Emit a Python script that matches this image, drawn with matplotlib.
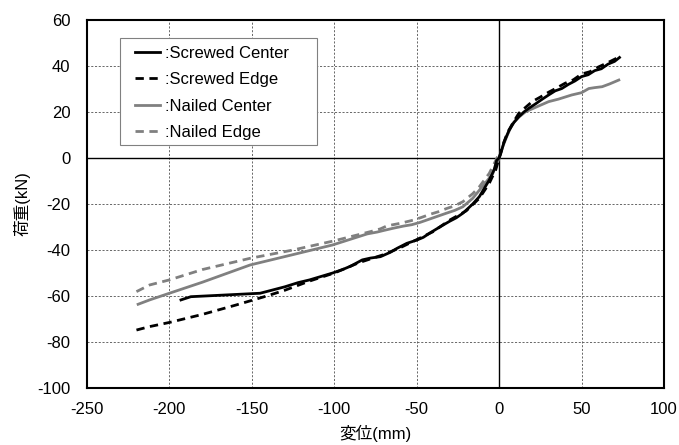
import matplotlib
matplotlib.use("Agg")
import matplotlib.pyplot as plt
from matplotlib.patches import Rectangle

plt.rcParams['font.family'] = ['Liberation Sans', 'Noto Sans CJK JP', 'DejaVu Sans']
plt.rcParams['axes.unicode_minus'] = False

# Screwed Center
sc_x = [-193, -187, -170, -145, -138, -130, -122, -115, -108, -101, -95, -90, -83, -78, -72, -66,
        -62, -56, -50, -46, -42, -36, -30, -26, -22, -16, -12, -6, -3, -1.5, 0,
        1, 3, 6, 9, 12, 15, 18, 22, 26, 30, 34, 38, 42, 46, 50, 54, 58, 62, 66, 70, 73]
sc_y = [-61.7, -60.3, -59.7, -58.8, -57.5, -56, -54.2, -53, -51.5, -50, -48.5, -47, -44.3, -43.5, -42.9, -41,
        -39.3, -37.1, -35.7, -34.5, -32.6, -30, -27.5, -26, -24, -20, -16.8, -9.6, -5, -1, 0,
        2, 7, 12, 15.5, 18, 20, 21.6, 23.5, 25.5, 27.4, 29.2, 30.2, 32, 33.5, 35.4, 36.2, 38, 38.8, 40.8, 42, 43.7]

# Screwed Edge
se_x = [-220, -212, -200, -180, -160, -141, -130, -115, -100, -85, -70, -60, -50, -40, -30,
        -20, -12, -6, -2, 0, 2, 5, 9, 12, 16, 20, 25, 30, 35, 40, 45, 50, 55, 60, 66, 73]
se_y = [-74.8, -73.3, -71.5, -68, -64, -60, -57.5, -53.5, -50, -45.5, -42, -39, -35.5, -32, -27,
        -23, -17.5, -11, -5, 0, 5, 11, 16, 19.5, 22, 24.5, 26.5, 28.6, 30.5, 32.5, 34, 36.5, 37.5, 39.5, 41.5, 44]

# Nailed Center
nc_x = [-219, -212, -200, -180, -151, -125, -101, -80, -74, -70, -64, -58, -53, -48, -40, -32, -27, -22, -16, -12,
        -8, -4, 0, 2, 5, 8, 12, 16, 22, 30, 36, 44, 50, 54.4, 58, 62.5, 67, 72.6]
nc_y = [-63.6, -61.7, -58.8, -54, -46.5, -42, -37.8, -33, -32.2, -31.5, -30.5, -29.6, -29, -28, -26, -24, -22.8, -21.2, -17.5, -14,
        -10.5, -7, 0, 4.6, 10, 14.8, 17.8, 20.1, 22, 24.5, 25.6, 27.4, 28.4, 30.2, 30.6, 31, 32.2, 33.9]

# Nailed Edge
ne_x = [-220, -212, -200, -180, -151, -125, -100, -78, -72, -68, -60, -52, -47, -42, -37, -32, -27, -22, -16, -12, -6, -2, 0]
ne_y = [-58.1, -55.2, -53, -48.5, -43.6, -40, -36, -32, -30.8, -29.5, -28.4, -27, -25.8, -24.5, -23.4, -22, -20.8, -19, -15.5, -12.5, -6.7, -1, 2]

fig = plt.figure(figsize=(6.79, 4.45), dpi=100)
ax = fig.add_axes([87 / 679, 57 / 445, 577 / 679, 368 / 445])

gray = '#808080'
dash = (0, (3.0, 2.0))
ax.plot(sc_x, sc_y, color='black', lw=2.0, label=':Screwed Center', zorder=4)
ax.plot(se_x, se_y, color='black', lw=2.0, ls=dash, label=':Screwed Edge', zorder=4)
ax.plot(nc_x, nc_y, color=gray, lw=2.0, label=':Nailed Center', zorder=3)
ax.plot(ne_x, ne_y, color=gray, lw=2.0, ls=dash, label=':Nailed Edge', zorder=3)

ax.axhline(0, color='black', lw=1.0, zorder=2)
ax.axvline(0, color='black', lw=1.0, zorder=2)

ax.set_xlim(-250, 100)
ax.set_ylim(-100, 60)
ax.set_xticks(range(-250, 101, 50))
ax.set_yticks(range(-100, 61, 20))
ax.grid(True, color='#505050', lw=0.6, ls=(0, (2.5, 2)))
ax.tick_params(length=0, labelsize=12)
ax.tick_params(axis='y', pad=12)
ax.tick_params(axis='x', pad=10)
for s in ax.spines.values():
    s.set_linewidth(1.5)
    s.set_zorder(6)

ax.set_xlabel('変位(mm)', fontsize=12, labelpad=6)
ax.set_ylabel('荷重(kN)', fontsize=12, labelpad=5)

# legend box
ax.add_patch(Rectangle((33 / 577, 243 / 368), 197 / 577, 107 / 368, transform=ax.transAxes,
                       facecolor='white', edgecolor=gray, lw=0.8, zorder=5))
leg = ax.legend(loc='upper left', bbox_to_anchor=(48 / 577, 1 - 25.5 / 368), borderaxespad=0,
                fontsize=12, handlelength=1.5, handletextpad=0.3, labelspacing=0.69,
                frameon=False, borderpad=0)
leg.set_zorder(7)

fig.savefig('out.png', dpi=100)
